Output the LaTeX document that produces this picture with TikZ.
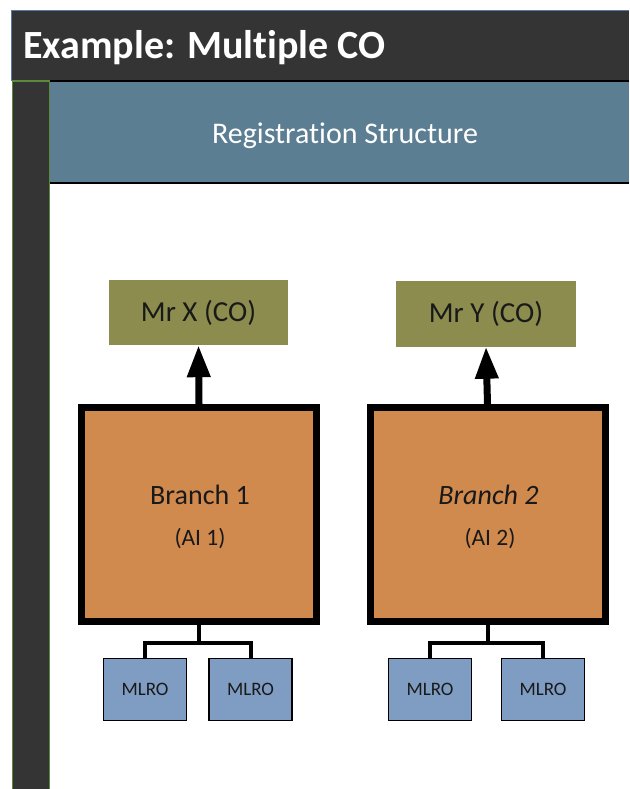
\documentclass[tikz,border=0pt]{standalone}
\usepackage{fontspec}
\setmainfont{Carlito}[Ligatures=NoCommon]
\usetikzlibrary{arrows.meta}
\definecolor{darkbar}{HTML}{343434}
\definecolor{bandblue}{HTML}{5B7E92}
\definecolor{olive}{HTML}{8B8C4E}
\definecolor{branchor}{HTML}{D18A4E}
\definecolor{mlroblue}{HTML}{7F9DC3}
\definecolor{stripgreen}{HTML}{5A8A3A}
\definecolor{edgeblue}{HTML}{5A78A8}
\tikzset{
  cobox/.style={fill=olive, draw=none, minimum width=179pt, minimum height=65pt, inner sep=0pt,
     font=\fontsize{29}{34}\selectfont, text=black!90},
  branchbox/.style={fill=branchor, draw=black, line width=7pt, minimum width=235pt, minimum height=214pt, inner sep=0pt},
  branchtxt/.style={font=\fontsize{28}{33}\selectfont, text=black!90, anchor=base},
  aitxt/.style={font=\fontsize{23.5}{28}\selectfont, text=black!90, anchor=base},
  mlrobox/.style={fill=mlroblue, draw=black, line width=1.6pt, minimum width=83pt, minimum height=62pt, inner sep=0pt,
     font=\fontsize{19}{23}\selectfont, text=black!90},
  uparrow/.style={line width=7pt, -{Triangle[width=22pt,length=32pt]}},
  linkline/.style={line width=4pt}
}
\begin{document}
\begin{tikzpicture}[x=1pt,y=-1pt]
\useasboundingbox (0,0) rectangle (629,789);
% title bar
\fill[darkbar] (11,11) rectangle (629,81);
\draw[edgeblue, line width=1pt] (11,81) -- (11,11) -- (629,11);
\node[anchor=base west, font=\fontsize{40}{46}\selectfont\bfseries, text=white, inner sep=0pt] (title) at (23,59) {Example: Multiple CO};
% left strip
\draw[fill=darkbar, draw=stripgreen, line width=1.5pt] (12.5,81) rectangle (49.5,790);
% band
\fill[bandblue] (50,81) rectangle (629,183);
\draw[black, line width=2pt] (50,81) -- (629,81);
\draw[black, line width=2pt] (50,183) -- (629,183);
\node[anchor=base, font=\fontsize{30}{35}\selectfont, text=white, inner sep=0pt] (band) at (345,143) {Registration Structure};
% CO boxes
\node[cobox] (mx) at (198.5,312.5) {Mr X (CO)};
\node[cobox, minimum width=180pt, minimum height=66pt] (my) at (486,313.5) {Mr Y (CO)};
% branch boxes
\node[branchbox] (b1) at (199,514.5) {};
\node[branchbox] (b2) at (487.5,514.5) {};
\node[branchtxt] (b1t) at (200,504) {Branch 1};
\node[aitxt] (b1a) at (200,545) {(AI 1)};
\node[branchtxt] (b2t) at (488.5,504) {\itshape Branch 2};
\node[aitxt] (b2a) at (490,545) {(AI 2)};
% arrows
\draw[uparrow] (b1.north) -- (mx.south);
\draw[uparrow] (b2.north) -- (my.south);
% MLRO boxes
\node[mlrobox] (m11) at (145,689.5) {MLRO};
\node[mlrobox] (m12) at (250.5,689.5) {MLRO};
\node[mlrobox] (m21) at (430,689.5) {MLRO};
\node[mlrobox] (m22) at (543,689.5) {MLRO};
% connectors
\draw[linkline] (b1.south) -- ++(0,18) -| (m11.north);
\draw[linkline] (b1.south) -- ++(0,18) -| (m12.north);
\draw[linkline] (b2.south) -- ++(0,18) -| (m21.north);
\draw[linkline] (b2.south) -- ++(0,18) -| (m22.north);
\end{tikzpicture}
\end{document}
